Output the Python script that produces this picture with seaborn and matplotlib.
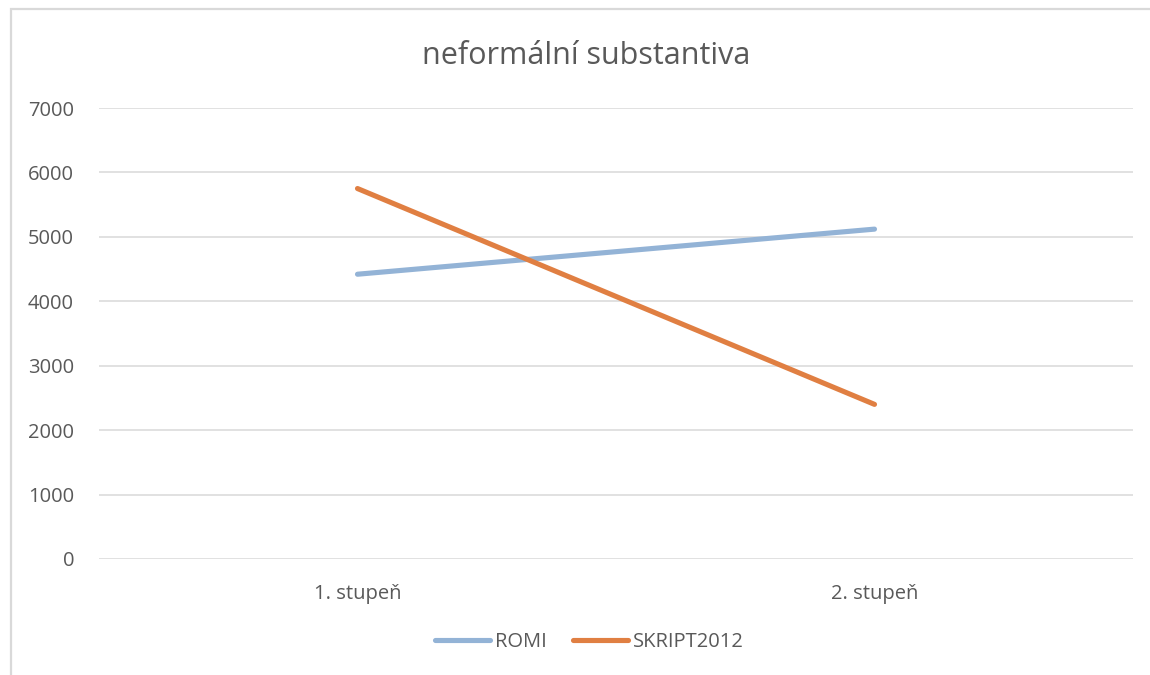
import matplotlib
matplotlib.use("Agg")
import matplotlib.pyplot as plt
import matplotlib.patches as patches
import pandas as pd
import seaborn as sns

# data
categories = ["1. stupeň", "2. stupeň"]
romi = [4420, 5120]
skript2012 = [5750, 2400]
series_names = ["ROMI", "SKRIPT2012"]
y_ticks = [0, 1000, 2000, 3000, 4000, 5000, 6000, 7000]

df = pd.DataFrame({
    "stupen": categories * 2,
    "hodnota": romi + skript2012,
    "serie": [series_names[0]] * len(categories) + [series_names[1]] * len(categories),
})

sns.set_theme(style="white")
plt.rcParams["font.family"] = ["Open Sans", "DejaVu Sans"]

fig = plt.figure(figsize=(11.5, 6.75), dpi=100)
ax = fig.add_axes([99 / 1150, 1 - 559 / 675, 1034 / 1150, 451 / 675])

# chart area border (runs off right and bottom edge)
fig.patches.append(patches.Rectangle(
    (11 / 1150, -0.05), 1.1, 1 - 9 / 675 + 0.05, transform=fig.transFigure,
    fill=False, edgecolor="#D9D9D9", linewidth=1.6, zorder=0))

sns.lineplot(
    data=df, x="stupen", y="hodnota", hue="serie", ax=ax,
    palette=["#93B3D6", "#E07F42"], linewidth=3.7, sort=False,
    solid_capstyle="round",
)

ax.set_xlim(-0.5, 1.5)
ax.set_ylim(0, 7000)
ax.set_yticks(y_ticks)
ax.yaxis.grid(True, color="#D9D9D9", linewidth=1.1)
ax.set_axisbelow(True)
for s in ax.spines.values():
    s.set_visible(False)
ax.set_xlabel("")
ax.set_ylabel("")
ax.tick_params(axis="y", length=0, pad=18, labelsize=14.5, labelcolor="#595959")
ax.tick_params(axis="x", length=0, pad=18, labelsize=14.5, labelcolor="#595959")

handles, labels = ax.get_legend_handles_labels()
ax.get_legend().remove()
fig.legend(handles, labels, loc="center", bbox_to_anchor=(0.5126, 1 - 642 / 675),
           ncol=2, frameon=False, fontsize=14.5, labelcolor="#595959",
           handlelength=2.75, handletextpad=0.25, columnspacing=1.3)

fig.text(0.51, 1 - 64 / 675, "neformální substantiva", ha="center", va="baseline",
         fontsize=22, color="#595959")

fig.savefig("out.png", dpi=100)
